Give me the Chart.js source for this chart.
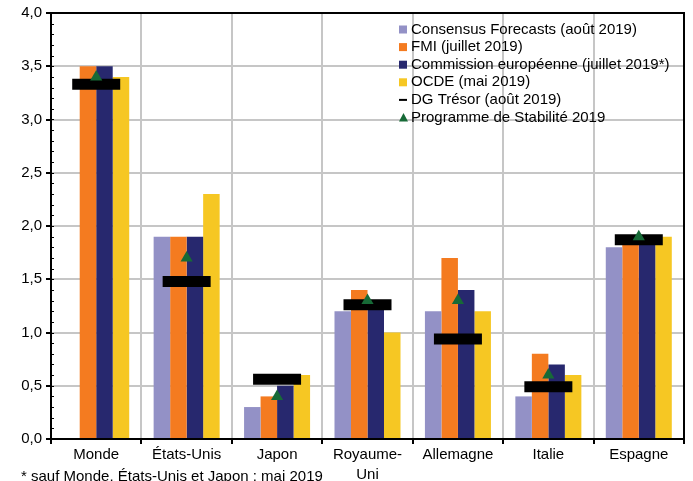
<!DOCTYPE html>
<html>
<head>
<meta charset="utf-8">
<script src="https://cdn.jsdelivr.net/npm/chart.js@4/dist/chart.umd.min.js"></script>
<style>
  html, body { margin: 0; padding: 0; background: #fff; }
  #wrap { width: 693px; height: 481px; }
</style>
</head>
<body>
<div id="wrap"><canvas id="growthChart" width="693" height="481"></canvas></div>
<script>
// categories and values
const pays = ['Monde', 'États-Unis', 'Japon', ['Royaume-', 'Uni'], 'Allemagne', 'Italie', 'Espagne'];
const consensus = [null, 1.9, 0.3, 1.2, 1.2, 0.4, 1.8];
const fmi = [3.5, 1.9, 0.4, 1.4, 1.7, 0.8, 1.9];
const commission = [3.5, 1.9, 0.5, 1.3, 1.4, 0.7, 1.9];
const ocde = [3.4, 2.3, 0.6, 1.0, 1.2, 0.6, 1.9];
const dgTresor = [3.33, 1.48, 0.56, 1.26, 0.94, 0.49, 1.87];
const programmeStab = [3.4, 1.7, 0.4, 1.3, 1.3, 0.6, 1.9];
const yTicks = [0, 0.5, 1, 1.5, 2, 2.5, 3, 3.5, 4];

const FONT = '"Liberation Sans", Arial, sans-serif';
const GREEN = '#176a37';

const legendItems = [
    { text: 'Consensus Forecasts (août 2019)', kind: 'box', color: '#9391c6' },
    { text: 'FMI (juillet 2019)', kind: 'box', color: '#f47b20' },
    { text: 'Commission européenne (juillet 2019*)', kind: 'box', color: '#27286e' },
    { text: 'OCDE (mai 2019)', kind: 'box', color: '#f6c723' },
    { text: 'DG Trésor (août 2019)', kind: 'dash', color: '#000' },
    { text: 'Programme de Stabilité 2019', kind: 'tri', color: GREEN }
];

// frame, minor ticks, legend, footnote
const decorPlugin = {
    id: 'decor',
    beforeDatasetsDraw(chart) {
        const ctx = chart.ctx;
        const a = chart.chartArea;
        const y = chart.scales.y;
        ctx.save();
        ctx.strokeStyle = '#000';
        ctx.lineWidth = 1;
        for (let v = 0.1; v < 4; v += 0.1) {
            const py = Math.round(y.getPixelForValue(v)) + 0.5;
            ctx.beginPath();
            ctx.moveTo(a.left, py);
            ctx.lineTo(a.left + 3, py);
            ctx.stroke();
        }
        ctx.restore();
    },
    afterDraw(chart) {
        const ctx = chart.ctx;
        const a = chart.chartArea;
        ctx.save();
        ctx.strokeStyle = '#000';
        ctx.lineWidth = 2;
        ctx.strokeRect(a.left, a.top, a.right - a.left, a.bottom - a.top);

        // legend
        ctx.font = '15px ' + FONT;
        ctx.textBaseline = 'middle';
        ctx.fillStyle = '#000';
        const lx = 399, ly = 29.5, step = 17.6;
        legendItems.forEach((it, i) => {
            const cy = ly + i * step;
            ctx.fillStyle = it.color;
            if (it.kind === 'box') {
                ctx.fillRect(lx, cy - 4, 8, 8);
            } else if (it.kind === 'dash') {
                ctx.fillRect(lx, cy - 1, 8, 2);
            } else {
                ctx.beginPath();
                ctx.moveTo(lx + 4.5, cy - 4.5);
                ctx.lineTo(lx + 9, cy + 4);
                ctx.lineTo(lx, cy + 4);
                ctx.closePath();
                ctx.fill();
            }
            ctx.fillStyle = '#000';
            ctx.fillText(it.text, lx + 12, cy);
        });

        // footnote
        ctx.font = '15px ' + FONT;
        ctx.fillText('* sauf Monde, États-Unis et Japon : mai 2019', 21, 477);
        ctx.restore();
    }
};

const ctx = document.getElementById('growthChart').getContext('2d');
const chart = new Chart(ctx, {
    type: 'bar',
    data: {
        labels: pays,
        datasets: [
            { label: 'Consensus Forecasts (août 2019)', data: consensus, backgroundColor: '#9391c6', order: 3 },
            { label: 'FMI (juillet 2019)', data: fmi, backgroundColor: '#f47b20', order: 3 },
            { label: 'Commission européenne (juillet 2019*)', data: commission, backgroundColor: '#27286e', order: 3 },
            { label: 'OCDE (mai 2019)', data: ocde, backgroundColor: '#f6c723', order: 3 },
            {
                label: 'DG Trésor (août 2019)',
                type: 'line',
                data: dgTresor,
                showLine: false,
                pointStyle: 'line',
                pointRadius: 24,
                pointBorderWidth: 11,
                pointBorderColor: '#000',
                pointBackgroundColor: '#000',
                order: 2
            },
            {
                label: 'Programme de Stabilité 2019',
                type: 'line',
                data: programmeStab,
                showLine: false,
                pointStyle: 'triangle',
                pointRadius: 7,
                pointBorderWidth: 0,
                pointBackgroundColor: GREEN,
                pointBorderColor: GREEN,
                order: 1
            }
        ]
    },
    options: {
        responsive: false,
        animation: false,
        layout: { autoPadding: false, padding: { left: 0, top: 13, right: 9, bottom: 0 } },
        datasets: {
            bar: { barPercentage: 1, categoryPercentage: 0.73 }
        },
        scales: {
            x: {
                afterFit: s => { s.height = 42; },
                grid: { color: '#c6c6c6', lineWidth: 2, tickLength: 5, tickColor: '#000', tickWidth: 2 },
                border: { color: '#000', width: 2 },
                ticks: { color: '#000', font: { family: FONT, size: 15, lineHeight: 1.33 }, padding: 1, maxRotation: 0, autoSkip: false }
            },
            y: {
                min: 0,
                max: 4,
                afterFit: s => { s.width = 51; },
                afterBuildTicks: s => { s.ticks = yTicks.map(v => ({ value: v })); },
                grid: { color: '#c6c6c6', lineWidth: 2, tickLength: 5, tickColor: '#000', tickWidth: 2 },
                border: { color: '#000', width: 2 },
                ticks: {
                    color: '#000',
                    font: { family: FONT, size: 15 },
                    padding: 4,
                    callback: v => v.toFixed(1).replace('.', ',')
                }
            }
        },
        plugins: {
            legend: { display: false },
            tooltip: { enabled: false }
        }
    },
    plugins: [decorPlugin]
});
</script>
</body>
</html>
